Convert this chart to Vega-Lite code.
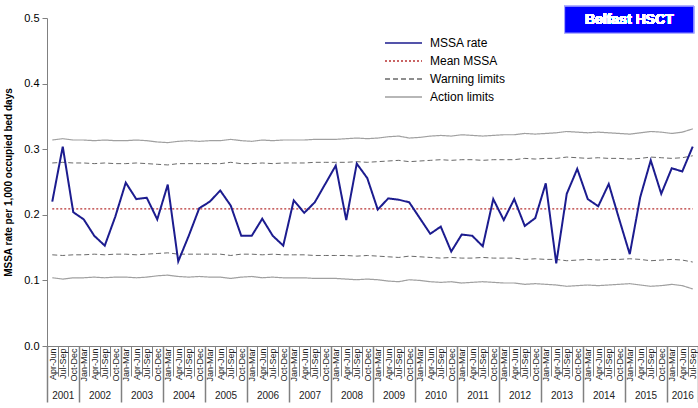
{
  "$schema": "https://vega.github.io/schema/vega-lite/v6.json",
  "autosize": "none",
  "width": 651,
  "height": 328,
  "padding": {"left": 47, "top": 18, "right": 0, "bottom": 62},
  "config": {
    "view": {"stroke": null},
    "font": "Liberation Sans",
    "axis": {"grid": false},
    "legend": {"labelFont": "Liberation Sans"}
  },
  "data": {"values": [
    {"i":0,"r":0.220,"m":0.209,"wu":0.279,"wl":0.139,"au":0.314,"al":0.104},
    {"i":1,"r":0.304,"m":0.209,"wu":0.280,"wl":0.138,"au":0.316,"al":0.102},
    {"i":2,"r":0.204,"m":0.209,"wu":0.279,"wl":0.139,"au":0.314,"al":0.104},
    {"i":3,"r":0.193,"m":0.209,"wu":0.279,"wl":0.139,"au":0.314,"al":0.104},
    {"i":4,"r":0.168,"m":0.209,"wu":0.278,"wl":0.140,"au":0.313,"al":0.105},
    {"i":5,"r":0.153,"m":0.209,"wu":0.279,"wl":0.139,"au":0.314,"al":0.104},
    {"i":6,"r":0.197,"m":0.209,"wu":0.278,"wl":0.140,"au":0.313,"al":0.105},
    {"i":7,"r":0.249,"m":0.209,"wu":0.278,"wl":0.140,"au":0.313,"al":0.105},
    {"i":8,"r":0.224,"m":0.209,"wu":0.279,"wl":0.139,"au":0.314,"al":0.104},
    {"i":9,"r":0.226,"m":0.209,"wu":0.278,"wl":0.140,"au":0.313,"al":0.105},
    {"i":10,"r":0.193,"m":0.209,"wu":0.277,"wl":0.141,"au":0.311,"al":0.107},
    {"i":11,"r":0.246,"m":0.209,"wu":0.276,"wl":0.142,"au":0.310,"al":0.108},
    {"i":12,"r":0.129,"m":0.209,"wu":0.278,"wl":0.140,"au":0.312,"al":0.106},
    {"i":13,"r":0.168,"m":0.209,"wu":0.278,"wl":0.140,"au":0.313,"al":0.105},
    {"i":14,"r":0.210,"m":0.209,"wu":0.278,"wl":0.140,"au":0.312,"al":0.106},
    {"i":15,"r":0.220,"m":0.209,"wu":0.278,"wl":0.140,"au":0.313,"al":0.105},
    {"i":16,"r":0.237,"m":0.209,"wu":0.278,"wl":0.140,"au":0.313,"al":0.105},
    {"i":17,"r":0.214,"m":0.209,"wu":0.280,"wl":0.138,"au":0.315,"al":0.103},
    {"i":18,"r":0.168,"m":0.209,"wu":0.278,"wl":0.140,"au":0.313,"al":0.105},
    {"i":19,"r":0.168,"m":0.209,"wu":0.278,"wl":0.140,"au":0.312,"al":0.106},
    {"i":20,"r":0.194,"m":0.209,"wu":0.279,"wl":0.139,"au":0.314,"al":0.104},
    {"i":21,"r":0.168,"m":0.209,"wu":0.278,"wl":0.140,"au":0.313,"al":0.105},
    {"i":22,"r":0.153,"m":0.209,"wu":0.279,"wl":0.139,"au":0.314,"al":0.104},
    {"i":23,"r":0.222,"m":0.209,"wu":0.279,"wl":0.139,"au":0.314,"al":0.104},
    {"i":24,"r":0.203,"m":0.209,"wu":0.279,"wl":0.139,"au":0.314,"al":0.104},
    {"i":25,"r":0.219,"m":0.209,"wu":0.280,"wl":0.138,"au":0.315,"al":0.103},
    {"i":26,"r":0.247,"m":0.209,"wu":0.280,"wl":0.138,"au":0.315,"al":0.103},
    {"i":27,"r":0.275,"m":0.209,"wu":0.280,"wl":0.138,"au":0.315,"al":0.103},
    {"i":28,"r":0.192,"m":0.209,"wu":0.280,"wl":0.138,"au":0.316,"al":0.102},
    {"i":29,"r":0.278,"m":0.209,"wu":0.281,"wl":0.137,"au":0.317,"al":0.101},
    {"i":30,"r":0.256,"m":0.209,"wu":0.280,"wl":0.138,"au":0.316,"al":0.102},
    {"i":31,"r":0.208,"m":0.209,"wu":0.281,"wl":0.137,"au":0.317,"al":0.101},
    {"i":32,"r":0.225,"m":0.209,"wu":0.282,"wl":0.136,"au":0.319,"al":0.099},
    {"i":33,"r":0.223,"m":0.209,"wu":0.283,"wl":0.135,"au":0.320,"al":0.098},
    {"i":34,"r":0.219,"m":0.209,"wu":0.281,"wl":0.137,"au":0.317,"al":0.101},
    {"i":35,"r":0.195,"m":0.209,"wu":0.282,"wl":0.136,"au":0.318,"al":0.100},
    {"i":36,"r":0.171,"m":0.209,"wu":0.283,"wl":0.135,"au":0.320,"al":0.098},
    {"i":37,"r":0.182,"m":0.209,"wu":0.284,"wl":0.134,"au":0.321,"al":0.097},
    {"i":38,"r":0.144,"m":0.209,"wu":0.283,"wl":0.135,"au":0.320,"al":0.098},
    {"i":39,"r":0.170,"m":0.209,"wu":0.284,"wl":0.134,"au":0.322,"al":0.096},
    {"i":40,"r":0.168,"m":0.209,"wu":0.284,"wl":0.134,"au":0.321,"al":0.097},
    {"i":41,"r":0.152,"m":0.209,"wu":0.283,"wl":0.135,"au":0.320,"al":0.098},
    {"i":42,"r":0.224,"m":0.209,"wu":0.284,"wl":0.134,"au":0.321,"al":0.097},
    {"i":43,"r":0.192,"m":0.209,"wu":0.284,"wl":0.134,"au":0.322,"al":0.096},
    {"i":44,"r":0.224,"m":0.209,"wu":0.284,"wl":0.134,"au":0.322,"al":0.096},
    {"i":45,"r":0.183,"m":0.209,"wu":0.286,"wl":0.132,"au":0.324,"al":0.094},
    {"i":46,"r":0.195,"m":0.209,"wu":0.285,"wl":0.133,"au":0.323,"al":0.095},
    {"i":47,"r":0.248,"m":0.209,"wu":0.286,"wl":0.132,"au":0.324,"al":0.094},
    {"i":48,"r":0.126,"m":0.209,"wu":0.286,"wl":0.132,"au":0.325,"al":0.093},
    {"i":49,"r":0.232,"m":0.209,"wu":0.288,"wl":0.130,"au":0.327,"al":0.091},
    {"i":50,"r":0.270,"m":0.209,"wu":0.287,"wl":0.131,"au":0.326,"al":0.092},
    {"i":51,"r":0.224,"m":0.209,"wu":0.286,"wl":0.132,"au":0.325,"al":0.093},
    {"i":52,"r":0.213,"m":0.209,"wu":0.287,"wl":0.131,"au":0.326,"al":0.092},
    {"i":53,"r":0.247,"m":0.209,"wu":0.286,"wl":0.132,"au":0.325,"al":0.093},
    {"i":54,"r":0.193,"m":0.209,"wu":0.286,"wl":0.132,"au":0.324,"al":0.094},
    {"i":55,"r":0.140,"m":0.209,"wu":0.285,"wl":0.133,"au":0.323,"al":0.095},
    {"i":56,"r":0.227,"m":0.209,"wu":0.286,"wl":0.132,"au":0.325,"al":0.093},
    {"i":57,"r":0.283,"m":0.209,"wu":0.288,"wl":0.130,"au":0.327,"al":0.091},
    {"i":58,"r":0.232,"m":0.209,"wu":0.287,"wl":0.131,"au":0.326,"al":0.092},
    {"i":59,"r":0.271,"m":0.209,"wu":0.286,"wl":0.132,"au":0.324,"al":0.094},
    {"i":60,"r":0.266,"m":0.209,"wu":0.287,"wl":0.131,"au":0.326,"al":0.092},
    {"i":61,"r":0.304,"m":0.209,"wu":0.290,"wl":0.128,"au":0.331,"al":0.087}
  ]},
  "resolve": {"scale": {"x": "independent"}, "axis": {"x": "independent"}},
  "layer": [
    {
      "mark": {"type": "line", "strokeWidth": 1.2},
      "encoding": {
        "x": {"field": "i", "type": "quantitative", "scale": {"domain": [-0.5, 61.5], "nice": false, "zero": false},
          "axis": {"orient": "bottom", "values": [-0.5,0.5,1.5,2.5,3.5,4.5,5.5,6.5,7.5,8.5,9.5,10.5,11.5,12.5,13.5,14.5,15.5,16.5,17.5,18.5,19.5,20.5,21.5,22.5,23.5,24.5,25.5,26.5,27.5,28.5,29.5,30.5,31.5,32.5,33.5,34.5,35.5,36.5,37.5,38.5,39.5,40.5,41.5,42.5,43.5,44.5,45.5,46.5,47.5,48.5,49.5,50.5,51.5,52.5,53.5,54.5,55.5,56.5,57.5,58.5,59.5,60.5,61.5],
            "labels": false, "title": null, "domain": true, "domainColor": "#808080", "tickColor": "#808080", "tickSize": 30, "tickWidth": 1}},
        "y": {"field": "au", "type": "quantitative", "scale": {"domain": [0, 0.5], "nice": false},
          "axis": {"values": [0, 0.1, 0.2, 0.3, 0.4, 0.5], "format": ".1f", "labelFontSize": 11, "labelColor": "#000000", "labelPadding": 3,
            "domainColor": "#808080", "tickColor": "#808080", "tickSize": 5,
            "title": "MSSA rate per 1,000 occupied bed days", "titleFontSize": 10, "titleFontWeight": "bold", "titleColor": "#000000", "titlePadding": 10}},
        "color": {"datum": "Action limits", "type": "nominal",
          "scale": {"domain": ["MSSA rate", "Mean MSSA", "Warning limits", "Action limits"], "range": ["#1c1c8f", "#b83232", "#6a6a6a", "#a0a0a0"]},
          "legend": {"orient": "none", "legendX": 337, "legendY": 17, "title": null, "symbolType": "stroke", "symbolSize": 1369, "symbolStrokeWidth": 1.5, "clipHeight": 16, "labelFontSize": 12, "labelColor": "#000000", "labelOffset": 7, "rowPadding": 2}},
        "strokeDash": {"datum": "Action limits", "type": "nominal",
          "scale": {"domain": ["MSSA rate", "Mean MSSA", "Warning limits", "Action limits"], "range": [[1, 0], [2, 2], [5, 3], [1, 0]]},
          "legend": {"orient": "none", "legendX": 337, "legendY": 17, "title": null, "symbolType": "stroke", "symbolSize": 1369, "symbolStrokeWidth": 1.5, "clipHeight": 16, "labelFontSize": 12, "labelColor": "#000000", "labelOffset": 7, "rowPadding": 2}}
      }
    },
    {
      "mark": {"type": "line", "strokeWidth": 1.2},
      "encoding": {
        "x": {"field": "i", "type": "quantitative", "scale": {"domain": [-0.5, 61.5], "nice": false, "zero": false},
          "axis": {"orient": "bottom", "values": [0,1,2,3,4,5,6,7,8,9,10,11,12,13,14,15,16,17,18,19,20,21,22,23,24,25,26,27,28,29,30,31,32,33,34,35,36,37,38,39,40,41,42,43,44,45,46,47,48,49,50,51,52,53,54,55,56,57,58,59,60,61],
            "labelExpr": "['Jan-Mar','Apr-Jun','Jul-Sep','Oct-Dec'][(datum.value + 1) % 4]",
            "labelAngle": -90, "labelFontSize": 9, "labelColor": "#222222", "labelPadding": 2, "labelOverlap": false, "labelFlush": false,
            "ticks": false, "tickSize": 0, "domain": false, "title": null}},
        "y": {"field": "al", "type": "quantitative"},
        "color": {"datum": "Action limits", "type": "nominal"},
        "strokeDash": {"datum": "Action limits", "type": "nominal"}
      }
    },
    {
      "mark": {"type": "line", "strokeWidth": 1},
      "encoding": {
        "x": {"field": "i", "type": "quantitative", "scale": {"domain": [-0.5, 61.5], "nice": false, "zero": false},
          "axis": {"orient": "bottom", "values": [1, 4.5, 8.5, 12.5, 16.5, 20.5, 24.5, 28.5, 32.5, 36.5, 40.5, 44.5, 48.5, 52.5, 56.5, 60],
            "labelExpr": "datum.value == 1 ? '2001' : datum.value == 60 ? '2016' : toString(2002 + (datum.value - 4.5) / 4)",
            "labelFontSize": 10, "labelColor": "#222222", "labelPadding": 44, "labelOverlap": false, "labelFlush": false,
            "ticks": false, "tickSize": 0, "domain": false, "title": null}},
        "y": {"field": "wu", "type": "quantitative"},
        "color": {"datum": "Warning limits", "type": "nominal"},
        "strokeDash": {"datum": "Warning limits", "type": "nominal"}
      }
    },
    {
      "mark": {"type": "line", "strokeWidth": 1},
      "encoding": {
        "x": {"field": "i", "type": "quantitative", "scale": {"domain": [-0.5, 61.5], "nice": false, "zero": false},
          "axis": {"orient": "bottom", "values": [-0.5, 2.5, 6.5, 10.5, 14.5, 18.5, 22.5, 26.5, 30.5, 34.5, 38.5, 42.5, 46.5, 50.5, 54.5, 58.5, 61.5],
            "labels": false, "domain": false, "tickColor": "#808080", "tickSize": 56, "tickWidth": 1.5, "title": null}},
        "y": {"field": "wl", "type": "quantitative"},
        "color": {"datum": "Warning limits", "type": "nominal"},
        "strokeDash": {"datum": "Warning limits", "type": "nominal"}
      }
    },
    {
      "mark": {"type": "line", "strokeWidth": 1.2},
      "encoding": {
        "x": {"field": "i", "type": "quantitative", "scale": {"domain": [-0.5, 61.5], "nice": false, "zero": false}, "axis": null},
        "y": {"field": "m", "type": "quantitative"},
        "color": {"datum": "Mean MSSA", "type": "nominal"},
        "strokeDash": {"datum": "Mean MSSA", "type": "nominal"}
      }
    },
    {
      "mark": {"type": "line", "strokeWidth": 2},
      "encoding": {
        "x": {"field": "i", "type": "quantitative", "scale": {"domain": [-0.5, 61.5], "nice": false, "zero": false}, "axis": null},
        "y": {"field": "r", "type": "quantitative"},
        "color": {"datum": "MSSA rate", "type": "nominal"},
        "strokeDash": {"datum": "MSSA rate", "type": "nominal"}
      }
    },
    {
      "mark": {"type": "rect", "fill": "#0000ff", "stroke": "#b0b0ff", "strokeWidth": 1},
      "encoding": {
        "x": {"datum": 48.8, "type": "quantitative", "scale": {"domain": [-0.5, 61.5], "nice": false, "zero": false}, "axis": null},
        "x2": {"datum": 61.1},
        "y": {"datum": 0.477, "type": "quantitative"},
        "y2": {"datum": 0.518}
      }
    },
    {
      "mark": {"type": "text", "color": "#ffffff", "fontWeight": "bold", "fontSize": 14, "align": "center", "baseline": "middle"},
      "encoding": {
        "x": {"datum": 54.95, "type": "quantitative", "scale": {"domain": [-0.5, 61.5], "nice": false, "zero": false}, "axis": null},
        "y": {"datum": 0.4975, "type": "quantitative"},
        "text": {"value": "Belfast HSCT"}
      }
    }
  ]
}
